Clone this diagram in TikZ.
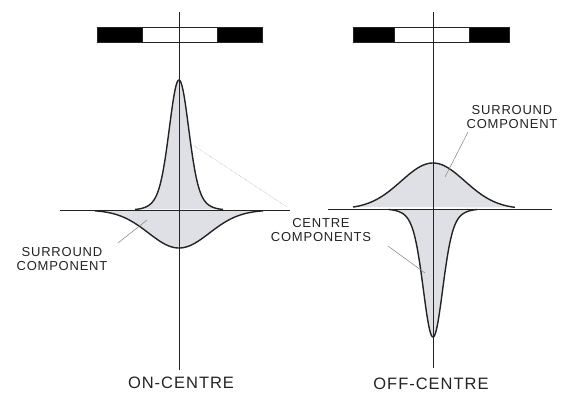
\documentclass[tikz,border=0pt]{standalone}
\usepackage{fontspec}
\setmainfont{Liberation Sans}
\newfontfamily\labfont[LetterSpace=6]{Liberation Sans}
\definecolor{lightfill}{RGB}{222,224,230}
\definecolor{ink}{RGB}{35,35,35}
\begin{document}
\begin{tikzpicture}[x=1pt,y=-1pt,
  axis/.style={line width=0.6pt, ink},
  curve/.style={line width=1.4pt, ink, line join=round},
  leader/.style={line width=0.5pt, black!50},
  faint/.style={line width=0.5pt, black!35, densely dotted},
  bar/.style={line width=0.6pt, draw=ink},
  area/.style={fill=lightfill},
  lab/.style={font=\labfont\fontsize{13}{14.5}\selectfont, align=center, inner sep=0pt, text=ink},
  big/.style={font=\labfont\fontsize{16.5}{18}\selectfont, inner sep=0pt, text=ink}]
\useasboundingbox (0,0) rectangle (561,396);
% ---------- fills
\fill[area] plot[domain=-44:44,samples=141] ({179+\x},{210-130*(0.8*exp(-\x*\x/170)+0.2*exp(-\x*\x/500))}) -- cycle;
\fill[area] plot[domain=-84:84,samples=121] ({179+\x},{210+38*exp(-\x*\x/1850)}) -- cycle;
\fill[area] plot[domain=-80:82,samples=121] ({433+\x},{209-46*exp(-\x*\x/2025)}) -- cycle;
\fill[area] plot[domain=-44:44,samples=141] ({433+\x},{209+128*(0.8*exp(-\x*\x/170)+0.2*exp(-\x*\x/500))}) -- cycle;
% ---------- axes
\coordinate (lt) at (179,12); \coordinate (lb) at (179,370);
\coordinate (ll) at (60,210); \coordinate (lr) at (290,210);
\coordinate (rt) at (433,12); \coordinate (rb) at (433,368);
\coordinate (rl) at (328,209); \coordinate (rr) at (552,209);
\draw[axis] (lt) -- (lb);
\draw[axis] (ll) -- (lr);
\draw[axis] (rt) -- (rb);
\draw[axis] (rl) -- (rr);
% ---------- bars
\draw[bar, fill=black] (97,27) rectangle (142,42);
\draw[bar, fill=white] (142,27) rectangle (217,42);
\draw[bar, fill=black] (217,27) rectangle (262,42);
\draw[bar, fill=black] (353,27) rectangle (394,42);
\draw[bar, fill=white] (394,27) rectangle (469,42);
\draw[bar, fill=black] (469,27) rectangle (509,42);
\draw[axis] (179,20) -- (179,48);
\draw[axis] (433,20) -- (433,48);
% ---------- curves
\draw[curve] plot[domain=-44:44,samples=141] ({179+\x},{210-130*(0.8*exp(-\x*\x/170)+0.2*exp(-\x*\x/500))});
\draw[curve] plot[domain=-84:84,samples=121] ({179+\x},{210+38*exp(-\x*\x/1850)});
\draw[curve] plot[domain=-80:82,samples=121] ({433+\x},{209-46*exp(-\x*\x/2025)});
\draw[curve] plot[domain=-44:44,samples=141] ({433+\x},{209+128*(0.8*exp(-\x*\x/170)+0.2*exp(-\x*\x/500))});
% ---------- labels
\node[lab] (ls) at (62,259) {SURROUND\\COMPONENT};
\node[lab] (cc) at (321,230) {CENTRE\\COMPONENTS};
\node[lab] (rs) at (512,117) {SURROUND\\COMPONENT};
\node[big] (on) at (181,383) {ON-CENTRE};
\node[big] (off) at (431,384) {OFF-CENTRE};
% ---------- leaders
\coordinate (ls1) at (118,243); \coordinate (ls2) at (147,220);
\coordinate (cl1) at (287,207); \coordinate (cl2) at (193,145);
\coordinate (cr1) at (388,246); \coordinate (cr2) at (425,273);
\coordinate (rs1) at (468,132); \coordinate (rs2) at (445,177);
\draw[leader] (ls1) -- (ls2);
\draw[faint] (cl1) -- (cl2);
\draw[leader] (cr1) -- (cr2);
\draw[leader] (rs1) -- (rs2);
\end{tikzpicture}
\end{document}
